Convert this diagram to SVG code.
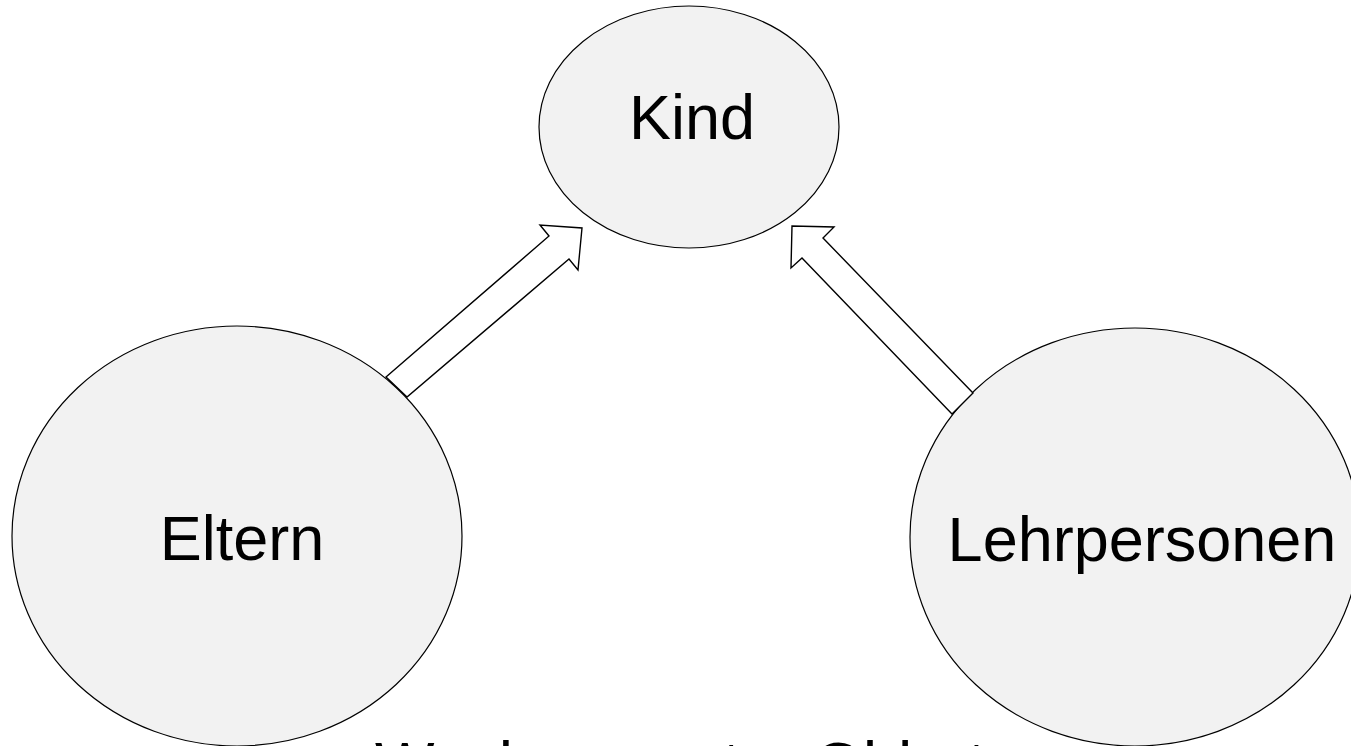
<svg xmlns="http://www.w3.org/2000/svg" width="1351" height="746" viewBox="0 0 1351 746">
  <style>
    .node { fill: #f2f2f2; stroke: #000000; stroke-width: 1.2; }
    .label { font-family: "Liberation Sans", Arial, sans-serif; font-size: 63px; fill: #000000; text-anchor: middle; }
    .caption { font-family: "Liberation Sans", Arial, sans-serif; font-size: 63px; fill: #000000; }
    .block-arrow { fill: #ffffff; stroke: #000000; stroke-width: 1.4; stroke-linejoin: miter; }
  </style>
  <rect width="1351" height="746" fill="#ffffff"/>

  <g id="node-kind">
    <ellipse class="node" cx="689" cy="127" rx="150" ry="121"/>
    <text class="label" x="692" y="139">Kind</text>
  </g>

  <g id="node-eltern">
    <ellipse class="node" cx="237" cy="536" rx="225" ry="210"/>
    <text class="label" x="242" y="560">Eltern</text>
  </g>

  <g id="node-lehrpersonen">
    <ellipse class="node" cx="1135" cy="537" rx="225" ry="209"/>
    <text class="label" x="1142" y="561">Lehrpersonen</text>
  </g>

  <!-- hollow block arrows from the two circles up to the child -->
  <g id="connectors">
    <polygon class="block-arrow" points="386,377 549,236 540,225 582,228 578,270 569,259 407,397"/>
    <polygon class="block-arrow" points="973,393 823,238 834,227 792,226 791,268 802,258 952,414"/>
  </g>

  <!-- caption running off the bottom edge -->
  <g id="caption">
    <text class="caption" x="375" y="786">Wachsen unter Obhut</text>
  </g>
</svg>
